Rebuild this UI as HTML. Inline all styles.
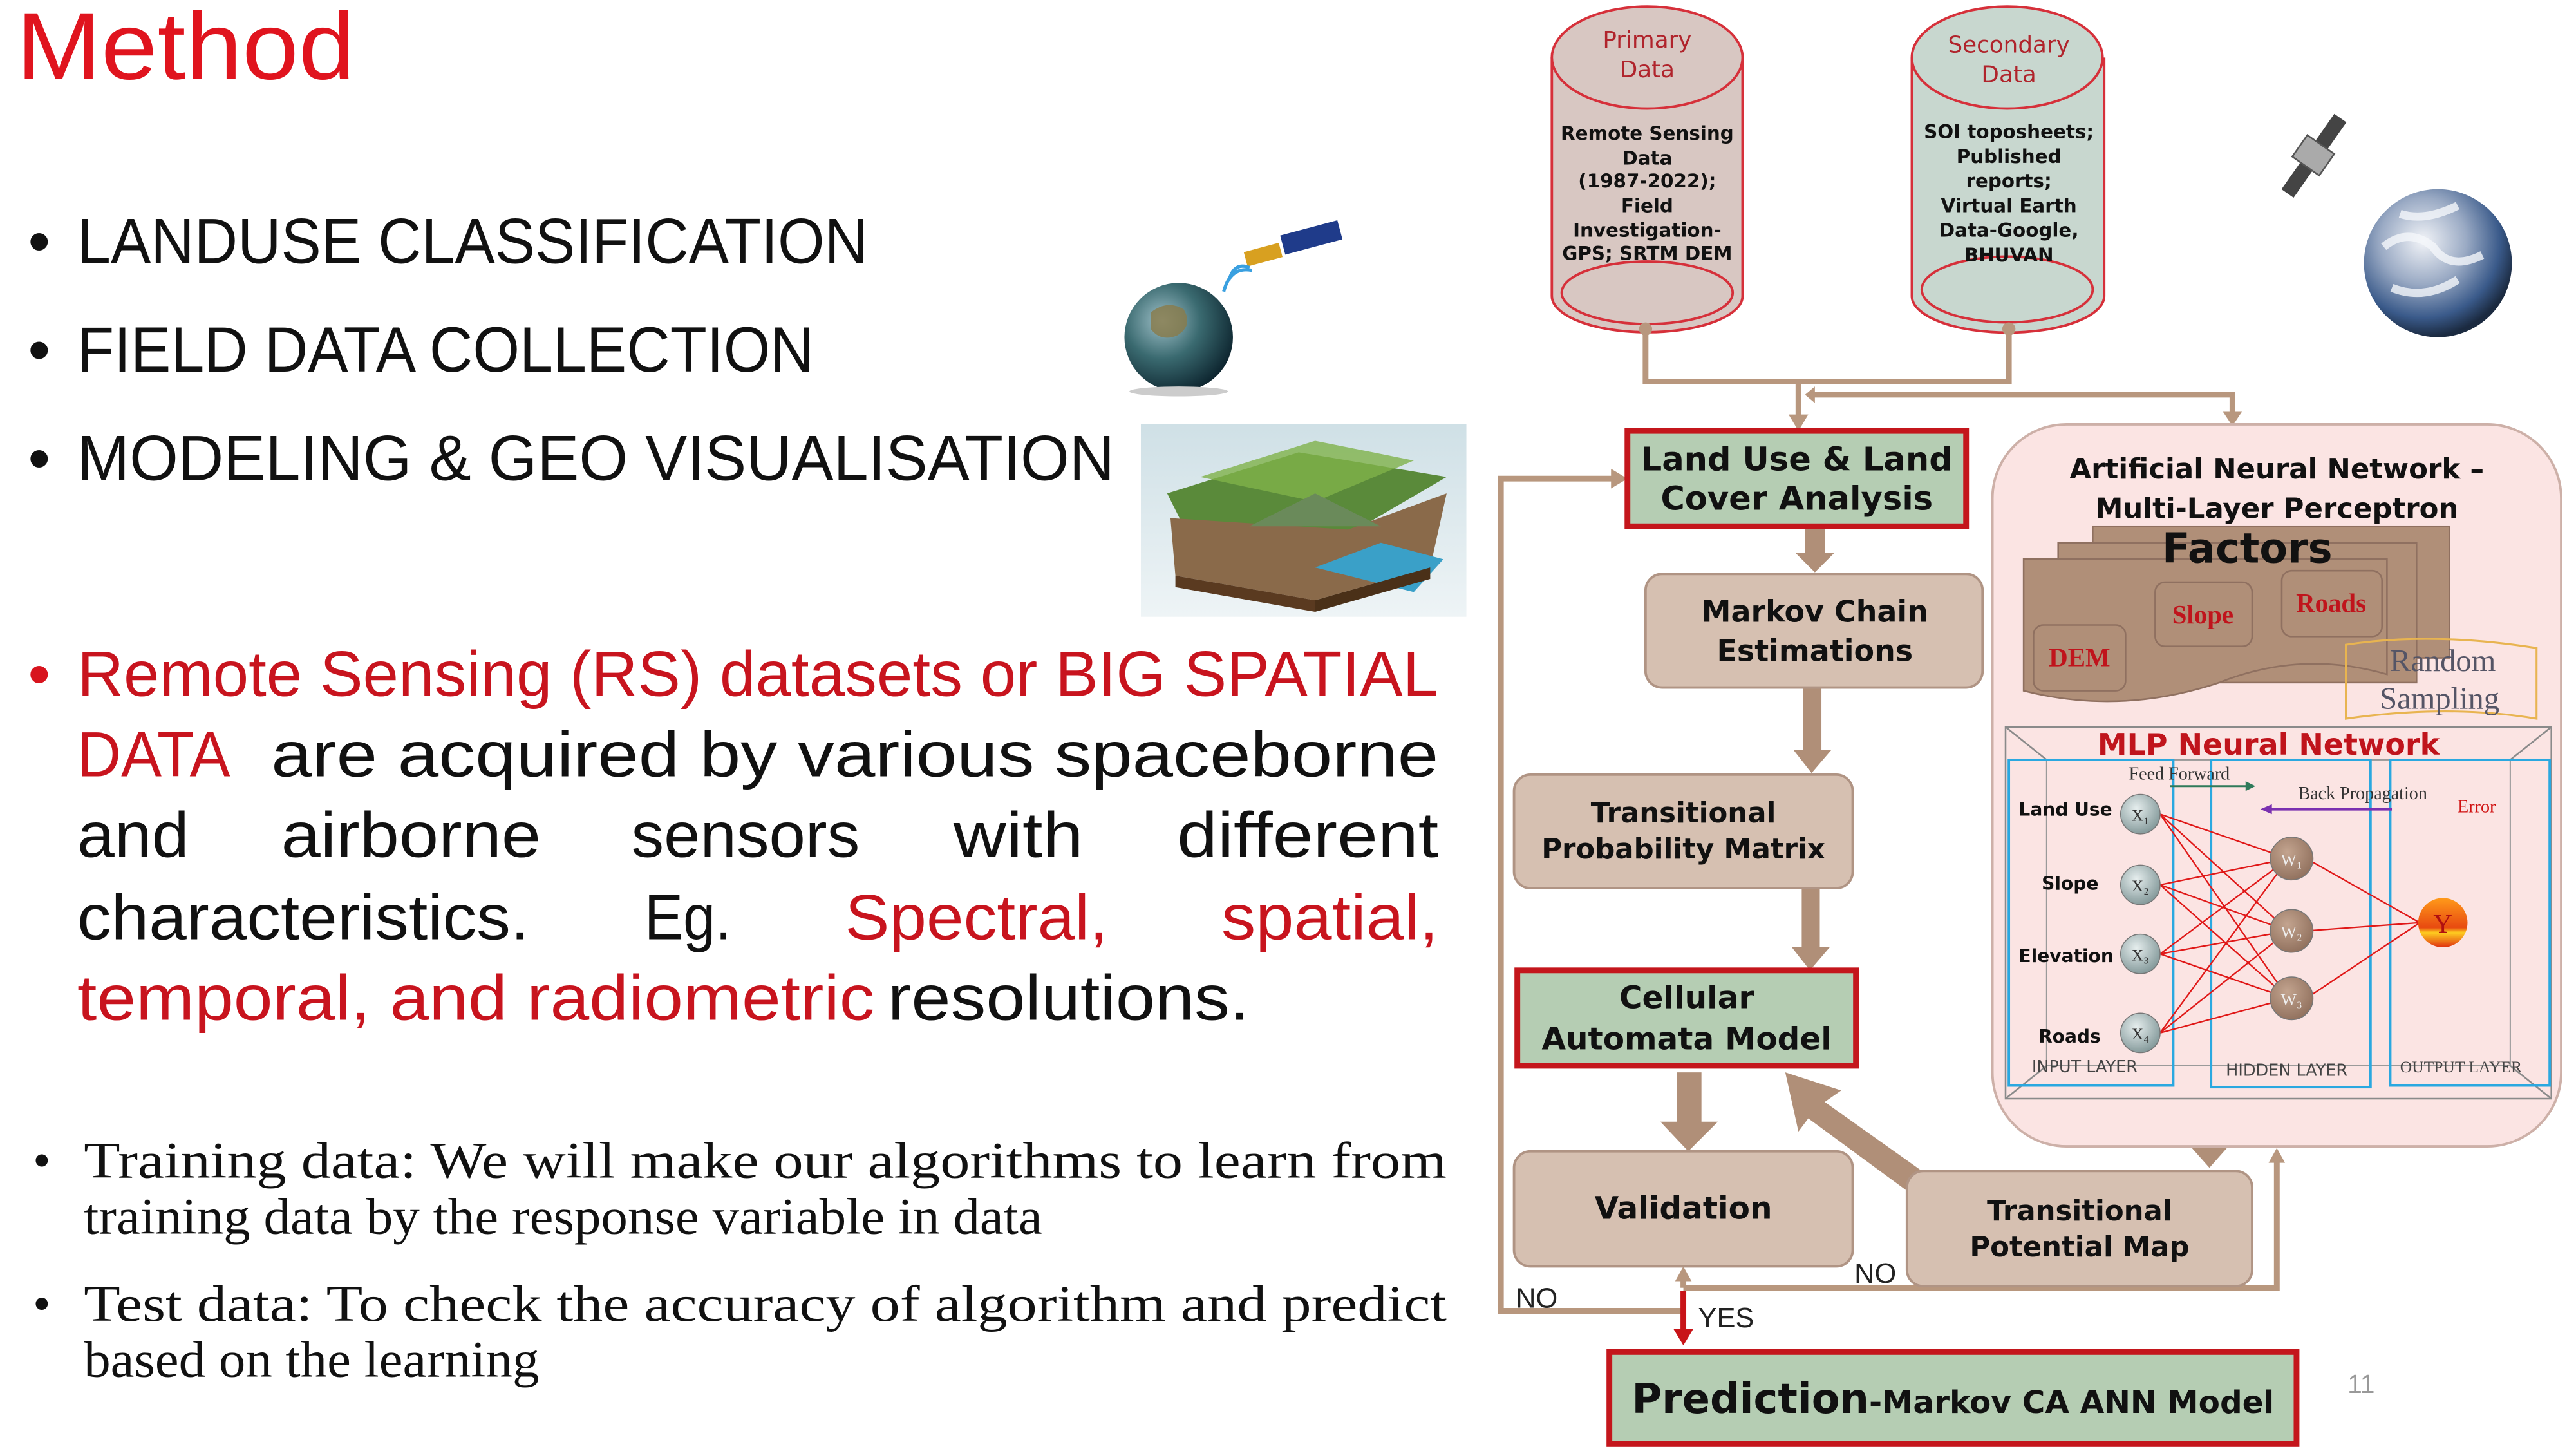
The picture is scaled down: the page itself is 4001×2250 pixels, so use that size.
<!DOCTYPE html>
<html><head><meta charset="utf-8"><style>
html,body{margin:0;padding:0;background:#fff;}
svg{display:block}
</style></head><body>
<svg width="4001" height="2250" viewBox="0 0 1567 881" preserveAspectRatio="none" xmlns="http://www.w3.org/2000/svg" font-family="Liberation Sans, sans-serif">
<defs>
<radialGradient id="earth" cx="40%" cy="35%" r="65%"><stop offset="0" stop-color="#f2f4f8"/><stop offset=".45" stop-color="#9aaac4"/><stop offset=".8" stop-color="#3a5a8a"/><stop offset="1" stop-color="#1b2a40"/></radialGradient>
<radialGradient id="earth2" cx="35%" cy="35%" r="70%"><stop offset="0" stop-color="#9fc0c8"/><stop offset=".5" stop-color="#3a6a70"/><stop offset="1" stop-color="#0e2630"/></radialGradient>
<radialGradient id="xn" cx="40%" cy="35%" r="70%"><stop offset="0" stop-color="#e6eeee"/><stop offset="1" stop-color="#7f9596"/></radialGradient>
<radialGradient id="wn" cx="40%" cy="35%" r="70%"><stop offset="0" stop-color="#c3a48f"/><stop offset="1" stop-color="#8f6f5c"/></radialGradient>
<linearGradient id="yn" x1="0" y1="0" x2="0" y2="1"><stop offset="0" stop-color="#ff9a1a"/><stop offset=".6" stop-color="#e84a10"/><stop offset=".7" stop-color="#ffd020"/><stop offset="1" stop-color="#e03010"/></linearGradient>
<linearGradient id="terr" x1="0" y1="0" x2="0" y2="1"><stop offset="0" stop-color="#cfe0e6"/><stop offset="1" stop-color="#eef4f6"/></linearGradient>
</defs>

<!-- Left text -->
<text x="10" y="48" font-size="58" fill="#e0141e" textLength="206" lengthAdjust="spacingAndGlyphs">Method</text>
<g font-size="39" fill="#111">
<text x="17" y="160">•</text><text x="47" y="160" textLength="481" lengthAdjust="spacingAndGlyphs">LANDUSE CLASSIFICATION</text>
<text x="17" y="226">•</text><text x="47" y="226" textLength="448" lengthAdjust="spacingAndGlyphs">FIELD DATA COLLECTION</text>
<text x="17" y="292">•</text><text x="47" y="292" textLength="631" lengthAdjust="spacingAndGlyphs">MODELING &amp; GEO VISUALISATION</text>
</g>
<g font-size="39" lengthAdjust="spacingAndGlyphs">
<text x="17" y="423" fill="#d8141e">•</text>
<text x="47" y="423" fill="#c8141e" textLength="828" lengthAdjust="spacingAndGlyphs">Remote Sensing (RS) datasets or BIG SPATIAL</text>
<text x="47" y="472" fill="#c8141e" textLength="93" lengthAdjust="spacingAndGlyphs">DATA</text>
<text x="165" y="472" fill="#111" textLength="710" lengthAdjust="spacingAndGlyphs">are  acquired  by  various  spaceborne</text>
<g fill="#111">
<text x="47" y="521" textLength="68" lengthAdjust="spacingAndGlyphs">and</text>
<text x="171" y="521" textLength="158" lengthAdjust="spacingAndGlyphs">airborne</text>
<text x="384" y="521" textLength="139" lengthAdjust="spacingAndGlyphs">sensors</text>
<text x="580" y="521" textLength="79" lengthAdjust="spacingAndGlyphs">with</text>
<text x="716" y="521" textLength="159" lengthAdjust="spacingAndGlyphs">different</text>
<text x="47" y="571" textLength="275" lengthAdjust="spacingAndGlyphs">characteristics.</text>
<text x="392" y="571" textLength="53" lengthAdjust="spacingAndGlyphs">Eg.</text>
</g>
<text x="514" y="571" fill="#c8141e" textLength="160" lengthAdjust="spacingAndGlyphs">Spectral,</text>
<text x="743" y="571" fill="#c8141e" textLength="132" lengthAdjust="spacingAndGlyphs">spatial,</text>
<text x="47" y="620" fill="#c8141e" textLength="485" lengthAdjust="spacingAndGlyphs">temporal, and radiometric</text>
<text x="540" y="620" fill="#111" textLength="220" lengthAdjust="spacingAndGlyphs">resolutions.</text>
</g>
<g font-size="31" fill="#111" font-family="Liberation Serif, serif">
<text x="20" y="716">•</text>
<text x="51" y="716" textLength="829" lengthAdjust="spacingAndGlyphs">Training data: We will make our algorithms to learn from</text>
<text x="51" y="750" textLength="583" lengthAdjust="spacingAndGlyphs">training data by the response variable in data</text>
<text x="20" y="803">•</text>
<text x="51" y="803" textLength="829" lengthAdjust="spacingAndGlyphs">Test data: To check the accuracy of algorithm and predict</text>
<text x="51" y="837" textLength="277" lengthAdjust="spacingAndGlyphs">based on the learning</text>
</g>

<!-- left globe + satellite -->
<circle cx="717" cy="205" r="33" fill="url(#earth2)"/>
<path d="M700 190 q10 -8 20 -2 q6 10 -4 16 q-10 4 -16 -4z" fill="#8a7a48" opacity=".8"/>
<ellipse cx="717" cy="238" rx="30" ry="3" fill="#ccc"/>
<g transform="rotate(-15 785 155)">
<rect x="782" y="142" width="36" height="12" fill="#1f3b8a"/>
<rect x="758" y="146" width="22" height="9" fill="#d8a020"/>
<path d="M745 160 q6 -10 14 -4 M740 166 q8 -14 20 -8" stroke="#3aa0e0" stroke-width="2" fill="none"/>
</g>

<!-- terrain image -->
<rect x="694" y="258" width="198" height="117" fill="url(#terr)"/>
<polygon points="710,300 790,275 880,290 820,325 720,320" fill="#5a8a3a"/>
<polygon points="730,290 800,268 860,280 800,305" fill="#7fb24a" opacity=".8"/>
<polygon points="712,315 820,322 880,300 870,345 800,365 715,350" fill="#8a6a4a"/>
<polygon points="760,320 800,300 840,320" fill="#6a8a5a"/>
<polygon points="800,345 840,330 878,340 860,360" fill="#3aa0c8"/>
<polygon points="715,350 800,365 800,372 715,357" fill="#5a3a20"/>
<polygon points="800,365 870,345 870,352 800,372" fill="#4a3018"/>

<!-- right top globe + satellite -->
<circle cx="1483" cy="160" r="45" fill="url(#earth)"/>
<path d="M1450 150 q15 -12 30 0 q10 15 30 5 M1455 175 q20 8 40 -5 M1460 130 q15 5 35 -5" stroke="#f4f6fa" stroke-width="5" fill="none" opacity=".8"/>
<g transform="rotate(-55 1408 95)">
<rect x="1380" y="90" width="56" height="9" fill="#444"/>
<rect x="1400" y="84" width="16" height="20" fill="#aaa" stroke="#555"/>
</g>

<!-- Cylinders -->
<g stroke="#d6303a" stroke-width="1.5">
<path d="M944 35 L944 180 A58 22 0 0 0 1060 180 L1060 35" fill="#d8c7c2"/>
<ellipse cx="1002" cy="35" rx="58" ry="31" fill="#d8c7c2"/>
<ellipse cx="1002" cy="178" rx="52" ry="19" fill="#d8c7c2"/>
<path d="M1163 35 L1163 180 A58 22 0 0 0 1280 180 L1280 35" fill="#c8d7cf"/>
<ellipse cx="1221" cy="35" rx="58" ry="31" fill="#c8d7cf"/>
<ellipse cx="1221" cy="176" rx="52" ry="20" fill="#c8d7cf"/>
</g>
<g text-anchor="middle" font-family="DejaVu Sans, sans-serif">
<text x="1002" y="29" font-size="14" fill="#b0242c">Primary</text>
<text x="1002" y="47" font-size="14" fill="#b0242c">Data</text>
<text x="1222" y="32" font-size="14" fill="#b0242c">Secondary</text>
<text x="1222" y="50" font-size="14" fill="#b0242c">Data</text>
<g font-size="11.5" font-weight="bold" fill="#111">
<text x="1002" y="85">Remote Sensing</text><text x="1002" y="100">Data</text><text x="1002" y="114">(1987-2022);</text><text x="1002" y="129">Field</text><text x="1002" y="144">Investigation-</text><text x="1002" y="158">GPS; SRTM DEM</text>
<text x="1222" y="84">SOI toposheets;</text><text x="1222" y="99">Published</text><text x="1222" y="114">reports;</text><text x="1222" y="129">Virtual Earth</text><text x="1222" y="144">Data-Google,</text><text x="1222" y="159">BHUVAN</text>
</g></g>

<!-- connectors top -->
<g stroke="#b8977e" stroke-width="3.5" fill="none">
<path d="M1001 200 L1001 232 L1222 232 L1222 200"/>
<path d="M1094 232 L1094 256"/>
<path d="M1102 240 L1358 240 L1358 254"/>
<path d="M986 291 L913 291 L913 797 L1024 797"/>
<path d="M1024 783 L1385 783 L1385 705"/>
<path d="M1024 783 L1024 776"/>
</g>
<circle cx="1001" cy="200" r="4" fill="#b8977e"/><circle cx="1222" cy="200" r="4" fill="#b8977e"/>
<g fill="#b8977e">
<polygon points="1088,252 1100,252 1094,262"/>
<polygon points="1352,250 1364,250 1358,259"/>
<polygon points="1098,240 1104,235 1104,245"/>
<polygon points="980,285 990,291 980,297"/>
<polygon points="1380,707 1390,707 1385,698"/>
<polygon points="1019,779 1029,779 1024,770"/>
</g>
<path d="M1024 785 L1024 810" stroke="#c81418" stroke-width="3.5"/>
<polygon points="1018,808 1030,808 1024,818" fill="#c81418"/>

<!-- thick arrows -->
<g fill="#b08f78">
<rect x="1098" y="320" width="12" height="18"/><polygon points="1092,336 1116,336 1104,348"/>
<rect x="1097" y="418" width="11" height="40"/><polygon points="1091,456 1114,456 1102,470"/>
<rect x="1096" y="540" width="11" height="38"/><polygon points="1090,576 1113,576 1101,590"/>
<rect x="1020" y="652" width="15" height="32"/><polygon points="1010,682 1045,682 1027,700"/>
<rect x="1336" y="668" width="16" height="26"/><polygon points="1328,692 1360,692 1344,710"/>
<polygon points="1086,652 1120,663 1110,670 1172,714 1160,724 1100,680 1094,688"/>
<rect x="1398" y="405" width="10" height="22"/><polygon points="1394,425 1412,425 1403,440"/>
</g>

<!-- flow boxes -->
<g stroke="#b09484" stroke-width="1.5" fill="#d6c0b1">
<rect x="1001" y="349" width="205" height="69" rx="10"/>
<rect x="921" y="471" width="206" height="69" rx="10"/>
<rect x="921" y="700" width="206" height="70" rx="10"/>
<rect x="1160" y="712" width="210" height="70" rx="10"/>
</g>
<g stroke="#c4161c" stroke-width="3.5" fill="#b5cdb3">
<rect x="990" y="262" width="206" height="58"/>
<rect x="923" y="590" width="206" height="58"/>
<rect x="979" y="822" width="418" height="56"/>
</g>
<g text-anchor="middle" font-family="DejaVu Sans, sans-serif" font-weight="bold" fill="#111">
<text x="1093" y="286" font-size="20">Land Use &amp; Land</text>
<text x="1093" y="310" font-size="20">Cover Analysis</text>
<text x="1104" y="378" font-size="18">Markov Chain</text>
<text x="1104" y="402" font-size="18">Estimations</text>
<text x="1024" y="500" font-size="17">Transitional</text>
<text x="1024" y="522" font-size="17">Probability Matrix</text>
<text x="1026" y="613" font-size="19">Cellular</text>
<text x="1026" y="638" font-size="19">Automata Model</text>
<text x="1024" y="741" font-size="19">Validation</text>
<text x="1265" y="742" font-size="17">Transitional</text>
<text x="1265" y="764" font-size="17">Potential Map</text>
<text x="1188" y="859" font-size="25"><tspan>Prediction</tspan><tspan font-size="19">-Markov CA ANN Model</tspan></text>
</g>
<g font-size="17" fill="#222">
<text x="922" y="795">NO</text><text x="1128" y="780">NO</text><text x="1033" y="807">YES</text>
</g>
<text x="1428" y="847" font-size="16" fill="#999">11</text>

<!-- ANN box -->
<rect x="1212" y="258" width="346" height="439" rx="45" fill="#fbe4e3" stroke="#cdb0a8" stroke-width="1.5"/>
<g text-anchor="middle" font-family="DejaVu Sans, sans-serif" font-weight="bold" fill="#111">
<text x="1385" y="291" font-size="17">Artificial Neural Network –</text>
<text x="1385" y="315" font-size="17">Multi-Layer Perceptron</text>
</g>
<g fill="#b08f78" stroke="#8f7060" stroke-width="1">
<rect x="1273" y="320" width="217" height="80"/>
<rect x="1252" y="330" width="218" height="85"/>
<path d="M1231 340 L1452 340 L1452 410 Q1400 395 1350 415 Q1290 435 1231 420Z"/>
<rect x="1237" y="380" width="56" height="40" rx="6"/>
<rect x="1311" y="354" width="59" height="39" rx="6"/>
<rect x="1388" y="347" width="61" height="40" rx="6"/>
</g>
<text x="1367" y="342" font-size="25" font-weight="bold" text-anchor="middle" font-family="DejaVu Sans, sans-serif" fill="#111">Factors</text>
<g font-family="Liberation Serif, serif" font-weight="bold" fill="#c0141c" font-size="16" text-anchor="middle">
<text x="1265" y="405">DEM</text><text x="1340" y="379">Slope</text><text x="1418" y="372">Roads</text>
</g>
<path d="M1427 392 Q1480 384 1543 394 L1543 437 Q1490 428 1427 437Z" fill="none" stroke="#e8b450" stroke-width="1.2"/>
<g font-family="Liberation Serif, serif" font-size="19" fill="#556" text-anchor="middle">
<text x="1486" y="408">Random</text><text x="1484" y="431">Sampling</text></g>

<!-- MLP -->
<rect x="1220" y="442" width="332" height="226" fill="none" stroke="#8a8a8a" stroke-width="1"/>
<rect x="1245" y="462" width="282" height="186" fill="none" stroke="#9a9a9a" stroke-width=".8"/>
<path d="M1220 442 L1245 462 M1552 442 L1527 462 M1220 668 L1245 648 M1552 668 L1527 648" stroke="#8a8a8a"/>
<text x="1380" y="459" font-size="18" font-weight="bold" text-anchor="middle" fill="#c0141c" font-family="DejaVu Sans, sans-serif">MLP Neural Network</text>
<g fill="none" stroke="#2aa8e0" stroke-width="1.5">
<rect x="1222" y="462" width="100" height="198"/>
<rect x="1345" y="462" width="97" height="199"/>
<rect x="1454" y="462" width="97" height="198"/>
</g>
<g stroke="#e01818" stroke-width=".9">
<path d="M1314 495 L1392 522 M1314 495 L1392 566 M1314 495 L1392 607 M1314 538 L1392 522 M1314 538 L1392 566 M1314 538 L1392 607 M1314 580 L1392 522 M1314 580 L1392 566 M1314 580 L1392 607 M1314 628 L1392 522 M1314 628 L1392 566 M1314 628 L1392 607 M1403 522 L1472 561 M1403 566 L1472 561 M1403 607 L1472 561"/>
</g>
<g stroke="#777" stroke-width=".6">
<circle cx="1302" cy="495" r="12" fill="url(#xn)"/><circle cx="1302" cy="538" r="12" fill="url(#xn)"/><circle cx="1302" cy="580" r="12" fill="url(#xn)"/><circle cx="1302" cy="628" r="12" fill="url(#xn)"/>
<circle cx="1394" cy="522" r="13" fill="url(#wn)"/><circle cx="1394" cy="566" r="13" fill="url(#wn)"/><circle cx="1394" cy="607" r="13" fill="url(#wn)"/>
</g>
<circle cx="1486" cy="561" r="15" fill="url(#yn)"/>
<g font-family="Liberation Serif, serif" font-size="10" fill="#333" text-anchor="middle">
<text x="1302" y="499">X₁</text><text x="1302" y="542">X₂</text><text x="1302" y="584">X₃</text><text x="1302" y="632">X₄</text>
<text x="1394" y="526" fill="#eee">W₁</text><text x="1394" y="570" fill="#eee">W₂</text><text x="1394" y="611" fill="#eee">W₃</text>
<text x="1486" y="567" font-size="16" fill="#b01010">Y</text>
</g>
<g font-family="DejaVu Sans, sans-serif" font-size="11" font-weight="bold" fill="#111">
<text x="1228" y="496">Land Use</text><text x="1242" y="541">Slope</text><text x="1228" y="585">Elevation</text><text x="1240" y="634">Roads</text>
</g>
<g font-family="DejaVu Sans, sans-serif" font-size="10" fill="#444">
<text x="1236" y="652">INPUT LAYER</text><text x="1354" y="654">HIDDEN LAYER</text><text x="1460" y="652" font-family="Liberation Serif, serif">OUTPUT LAYER</text>
</g>
<g font-family="Liberation Serif, serif" font-size="11" fill="#333">
<text x="1295" y="474">Feed Forward</text><text x="1398" y="486">Back Propagation</text>
<text x="1495" y="494" fill="#d01010">Error</text></g>
<path d="M1320 478 L1368 478" stroke="#2f7a5a" stroke-width="1.2"/><polygon points="1366,475 1372,478 1366,481" fill="#2f7a5a"/>
<path d="M1380 492 L1455 492" stroke="#7a30b0" stroke-width="1.6"/><polygon points="1382,489 1375,492 1382,495" fill="#7a30b0"/>
</svg>
</body></html>
